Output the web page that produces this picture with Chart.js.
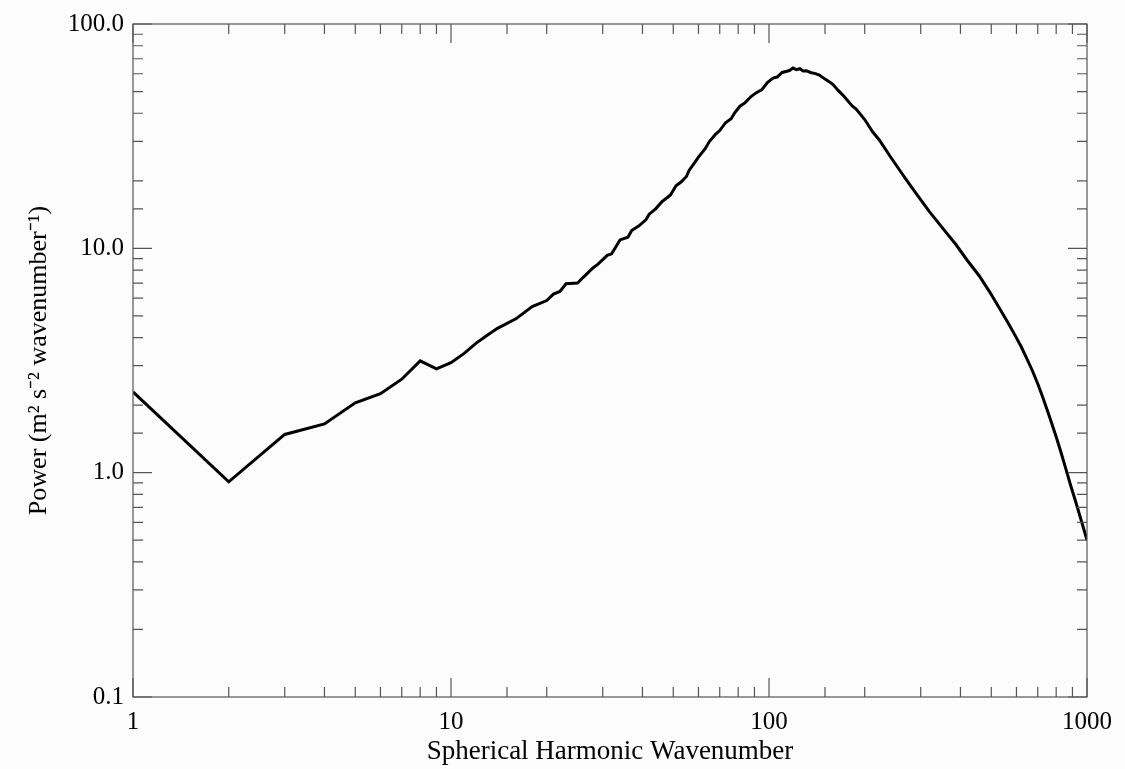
<!DOCTYPE html>
<html>
<head>
<meta charset="utf-8">
<script src="https://cdn.jsdelivr.net/npm/chart.js@4.4.1/dist/chart.umd.min.js"></script>
<style>
  html, body { margin: 0; padding: 0; background: #fcfcfc; }
  #wrap { width: 1125px; height: 769px; }
</style>
</head>
<body>
<div id="wrap"><canvas id="spectrum"></canvas></div>
<script>
// spherical harmonic wavenumber vs power
const wavenumber = [1, 2, 3, 4, 5, 6, 7, 8, 9, 10, 11, 12, 13, 14, 16, 18, 20, 21, 22, 23,
  25, 26, 28, 29, 31, 32, 34, 36, 37, 39, 41, 42, 44, 46, 48, 49, 51, 53, 55, 56,
  58, 60, 63, 65, 68, 70, 73, 76, 78, 81, 84, 88, 91, 95, 99, 103, 106, 110, 113, 116,
  119, 122, 125, 128, 131, 135, 140, 144, 150, 155, 159, 165, 172, 183, 188, 200, 212, 222, 240, 257,
  269, 290, 319, 350, 387, 420, 458, 494, 530, 565, 597, 620, 642, 674, 700, 724, 760, 798, 830, 858, 890, 922, 960, 1000];
const power = [2.29, 0.91, 1.48, 1.65, 2.05, 2.25, 2.61, 3.15, 2.90, 3.09, 3.40, 3.78, 4.10, 4.40, 4.85, 5.50, 5.85, 6.25, 6.42, 6.95,
  7.00, 7.40, 8.20, 8.50, 9.30, 9.45, 10.9, 11.2, 12.0, 12.6, 13.4, 14.2, 15.0, 16.1, 16.9, 17.3, 19.0, 19.8, 20.9, 22.2,
  23.8, 25.5, 27.8, 30.0, 32.3, 33.5, 36.3, 37.8, 40.2, 43.0, 44.5, 47.6, 49.3, 51.0, 55.0, 57.4, 58.0, 60.8, 61.4, 62.0,
  63.6, 62.6, 63.2, 61.8, 61.9, 60.8, 60.1, 59.2, 56.8, 55.2, 53.7, 50.6, 47.6, 43.0, 41.8, 37.5, 33.0, 30.5, 25.8, 22.4,
  20.4, 17.6, 14.6, 12.4, 10.4, 8.85, 7.55, 6.40, 5.42, 4.65, 4.04, 3.66, 3.30, 2.84, 2.49, 2.19, 1.80, 1.46, 1.22, 1.04, 0.87, 0.74, 0.61, 0.50];

const xDecades = [1, 10, 100, 1000];
const xTickLabels = ['1', '10', '100', '1000'];
const yDecades = [0.1, 1, 10, 100];
const yTickLabels = ['0.1', '1.0', '10.0', '100.0'];

const FONT = "'Liberation Serif', 'Times New Roman', serif";

function decadeLabel(v, decades, labels) {
  const i = decades.findIndex(d => Math.abs(v - d) / d < 1e-6);
  return i >= 0 ? labels[i] : '';
}

function isDecade(v) {
  const l = Math.log10(v);
  return Math.abs(l - Math.round(l)) < 1e-6;
}

// box round the plot with inward ticks on all four sides
const frameTicks = {
  id: 'frameTicks',
  afterDraw(chart) {
    const { ctx, chartArea: a } = chart;
    const xs = chart.scales.x, ys = chart.scales.y;
    ctx.save();
    ctx.strokeStyle = '#555';
    ctx.lineWidth = 1.2;
    ctx.strokeRect(a.left, a.top, a.right - a.left, a.bottom - a.top);
    ctx.beginPath();
    xs.ticks.forEach(t => {
      const px = xs.getPixelForValue(t.value);
      const len = isDecade(t.value) ? 19 : 10;
      ctx.moveTo(px, a.bottom); ctx.lineTo(px, a.bottom - len);
      ctx.moveTo(px, a.top); ctx.lineTo(px, a.top + len);
    });
    ys.ticks.forEach(t => {
      const py = ys.getPixelForValue(t.value);
      const len = isDecade(t.value) ? 19 : 10;
      ctx.moveTo(a.left, py); ctx.lineTo(a.left + len, py);
      ctx.moveTo(a.right, py); ctx.lineTo(a.right - len, py);
    });
    ctx.stroke();
    ctx.restore();
  }
};

const bgFill = {
  id: 'bgFill',
  beforeDraw(chart) {
    const ctx = chart.ctx;
    ctx.save();
    ctx.fillStyle = '#fcfcfc';
    ctx.fillRect(0, 0, chart.width, chart.height);
    ctx.restore();
  }
};

const points = wavenumber.map((w, i) => ({ x: w, y: power[i] }));

new Chart(document.getElementById('spectrum'), {
  type: 'line',
  data: {
    datasets: [{
      data: points,
      borderColor: '#000',
      borderWidth: 3,
      pointRadius: 0,
      tension: 0,
      fill: false
    }]
  },
  options: {
    responsive: true,
    maintainAspectRatio: false,
    animation: false,
    layout: { padding: { top: 17, right: 38, left: 0, bottom: 0 } },
    plugins: { legend: { display: false }, tooltip: { enabled: false } },
    scales: {
      x: {
        type: 'logarithmic',
        min: 1,
        max: 1000,
        grid: { display: false, drawTicks: false },
        border: { display: false },
        afterFit(s) { s.height = 72; },
        ticks: {
          autoSkip: false,
          maxRotation: 0,
          padding: 10,
          color: '#000',
          font: { family: FONT, size: 25 },
          callback: v => decadeLabel(v, xDecades, xTickLabels)
        },
        title: {
          display: true,
          text: 'Spherical Harmonic Wavenumber',
          color: '#000',
          font: { family: FONT, size: 27 },
          padding: { top: 0, bottom: 1 }
        }
      },
      y: {
        type: 'logarithmic',
        min: 0.1,
        max: 100,
        grid: { display: false, drawTicks: false },
        border: { display: false },
        afterFit(s) { s.width = 133; },
        ticks: {
          autoSkip: false,
          padding: 9,
          color: '#000',
          font: { family: FONT, size: 25 },
          callback: v => decadeLabel(v, yDecades, yTickLabels)
        },
        title: {
          display: true,
          text: 'Power (m² s⁻² wavenumber⁻¹)',
          color: '#000',
          font: { family: FONT, size: 26 },
          padding: { top: 24, bottom: 0 }
        }
      }
    }
  },
  plugins: [bgFill, frameTicks]
});
</script>
</body>
</html>
